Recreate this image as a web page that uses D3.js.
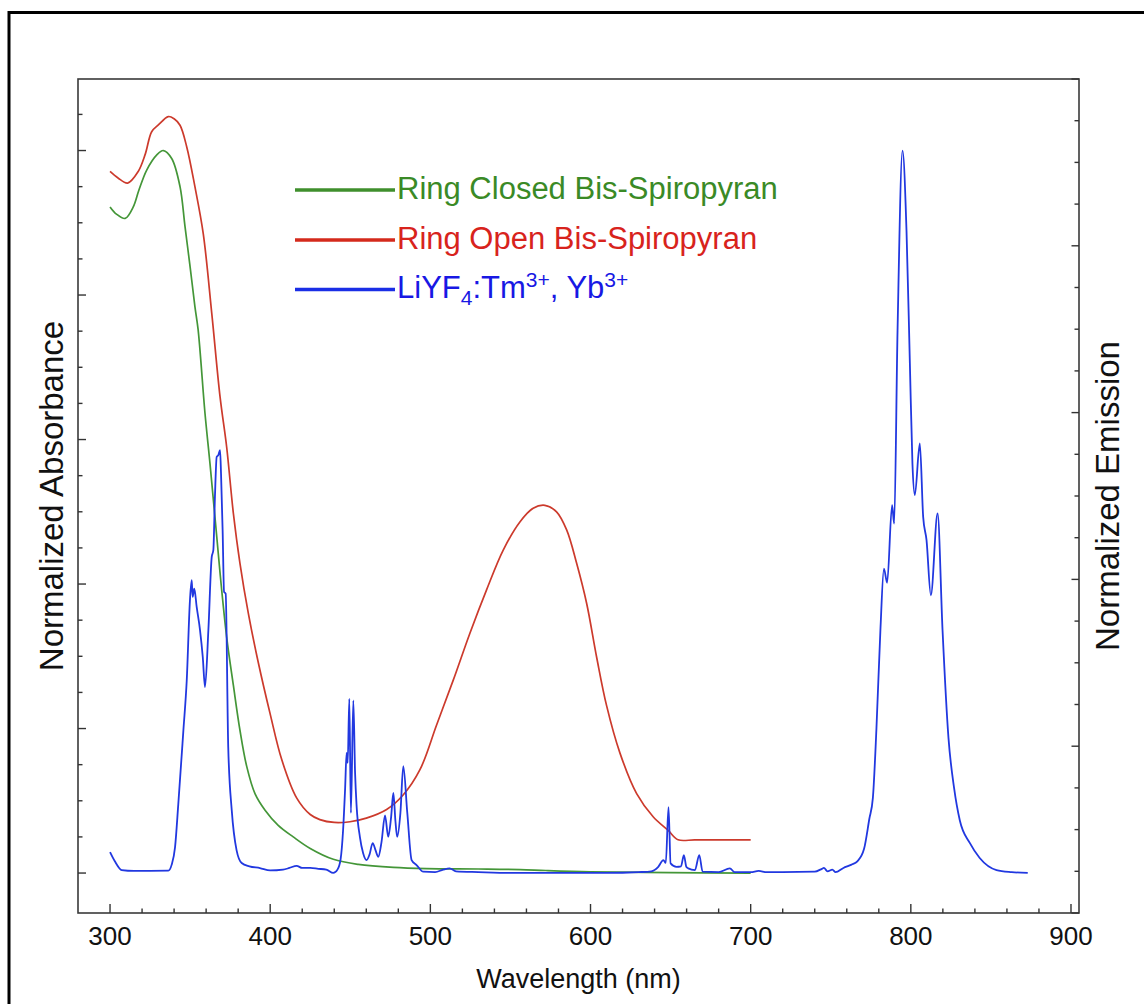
<!DOCTYPE html>
<html>
<head>
<meta charset="utf-8">
<script src="https://cdn.jsdelivr.net/npm/d3@7/dist/d3.min.js"></script>
<style>
  html, body { margin: 0; padding: 0; background: #fff; }
  svg { display: block; }
  text { font-family: "Liberation Sans", Arial, Helvetica, sans-serif; }
</style>
</head>
<body>
<svg id="chart" width="1144" height="1004"></svg>
<script>
// Ring-closed bis-spiropyran absorbance (normalized, left axis)
const closedWl  = [300, 304, 309.4, 314.5, 318, 322.9, 329.2, 333.3, 338.5, 343.7, 346.8, 350, 353, 355, 359.3, 362.4, 365.5, 368.7, 372.8, 377, 381.1, 385.3, 390.5, 396.8, 405, 414.4, 425, 439.4, 455, 477, 497.7, 530, 556, 572, 600, 650, 700];
const closedAbs = [0.922, 0.912, 0.906, 0.922, 0.945, 0.973, 0.994, 1.0, 0.989, 0.950, 0.895, 0.839, 0.784, 0.752, 0.636, 0.567, 0.493, 0.415, 0.327, 0.260, 0.198, 0.148, 0.110, 0.087, 0.066, 0.050, 0.034, 0.019, 0.012, 0.0078, 0.0062, 0.0056, 0.0048, 0.0035, 0.0018, 0.0006, 0.0];

// Ring-open bis-spiropyran absorbance (normalized, left axis)
const openWl  = [300, 305, 311, 317.6, 322, 326, 330, 336.4, 340, 343.7, 347.9, 353, 358.2, 363.5, 368.7, 372.8, 377, 381.1, 386.3, 392.6, 399.9, 407.2, 416.5, 425, 431, 440, 449.8, 460, 472.7, 483, 493.5, 503.9, 514.3, 524.7, 535.1, 545.5, 555.9, 564.2, 571.5, 578.8, 585.1, 591.3, 597.6, 603.8, 610, 618.4, 628.8, 639.1, 648.5, 654.7, 665, 680, 690, 700];
const openAbs = [0.971, 0.962, 0.955, 0.971, 0.995, 1.026, 1.035, 1.047, 1.044, 1.035, 1.005, 0.950, 0.885, 0.775, 0.659, 0.590, 0.498, 0.429, 0.360, 0.291, 0.221, 0.157, 0.104, 0.081, 0.074, 0.070, 0.071, 0.076, 0.088, 0.108, 0.143, 0.205, 0.267, 0.332, 0.392, 0.447, 0.486, 0.505, 0.509, 0.500, 0.475, 0.429, 0.373, 0.299, 0.232, 0.166, 0.110, 0.078, 0.059, 0.046, 0.046, 0.046, 0.046, 0.046];

// LiYF4:Tm3+, Yb3+ upconversion emission (normalized, right axis)
const emisWl  = [300, 303, 307.3, 315, 325, 336.4, 338.5, 340.6, 342.6, 345.8, 347.9, 349.9, 351, 351.6, 352.6, 354.1, 356.2, 357.9, 359.3, 361.4, 363.5, 364.5, 365.5, 366.6, 367.6, 368.7, 369.3, 370.3, 371.2, 372.2, 373.8, 376, 379, 382.2, 387, 393.6, 400, 408, 412, 416.5, 420, 425, 430, 435, 439.4, 442, 444, 445.5, 446.8, 447.7, 448.4, 449.4, 450.4, 451.9, 453, 454, 456, 458, 460.2, 462, 464, 465.8, 467.5, 469.5, 471.7, 473.7, 475.5, 476.9, 478.2, 479.3, 481.3, 483.1, 485.6, 488.3, 491.4, 495.6, 503, 508, 512, 516, 530, 550, 570, 590, 610, 630, 638, 642.3, 645.5, 647, 648.7, 650, 653.7, 656.5, 658.3, 659.8, 661, 665.2, 667.9, 670, 680, 687, 690, 700, 705, 710, 720, 740, 744.5, 745.7, 748, 751, 753, 757.9, 763, 766.6, 770.8, 774.1, 776.3, 778.5, 781, 783.2, 785.2, 788.3, 789.6, 791.7, 794.8, 797.3, 799.4, 801, 802.5, 805.6, 807.7, 809.8, 812.5, 816.7, 819.8, 823.5, 827, 830.6, 836.8, 843, 853.5, 863, 873];
const emisVal = [0.073, 0.062, 0.0515, 0.0505, 0.0505, 0.0507, 0.058, 0.079, 0.130, 0.219, 0.279, 0.375, 0.399, 0.379, 0.389, 0.367, 0.339, 0.307, 0.271, 0.339, 0.427, 0.435, 0.499, 0.547, 0.549, 0.555, 0.527, 0.459, 0.385, 0.383, 0.199, 0.123, 0.0754, 0.0599, 0.056, 0.0539, 0.051, 0.052, 0.054, 0.0566, 0.054, 0.054, 0.053, 0.052, 0.048, 0.052, 0.065, 0.099, 0.150, 0.192, 0.180, 0.257, 0.120, 0.255, 0.168, 0.127, 0.0914, 0.072, 0.0635, 0.070, 0.0838, 0.075, 0.0674, 0.085, 0.117, 0.0914, 0.115, 0.144, 0.110, 0.0914, 0.120, 0.176, 0.120, 0.0635, 0.0575, 0.0495, 0.049, 0.052, 0.0535, 0.050, 0.049, 0.048, 0.048, 0.048, 0.048, 0.049, 0.050, 0.0554, 0.0635, 0.060, 0.127, 0.0595, 0.0554, 0.056, 0.0695, 0.0555, 0.0535, 0.0515, 0.0695, 0.0495, 0.049, 0.0535, 0.049, 0.049, 0.0505, 0.049, 0.049, 0.0495, 0.053, 0.054, 0.050, 0.052, 0.049, 0.054, 0.058, 0.062, 0.077, 0.113, 0.138, 0.220, 0.339, 0.413, 0.396, 0.489, 0.467, 0.698, 0.914, 0.818, 0.659, 0.539, 0.501, 0.563, 0.475, 0.447, 0.381, 0.479, 0.339, 0.210, 0.150, 0.111, 0.084, 0.066, 0.0515, 0.049, 0.048];

// Axis ticks
const xMajorTicks = [300, 400, 500, 600, 700, 800, 900];
const xMinorTicks = d3.range(300, 901, 20);
const yMajorTicks = [0, 0.2, 0.4, 0.6, 0.8, 1.0];
const yLeftMinorTicks = d3.range(0, 1.051, 0.05);
const yRightMinorTicks = d3.range(0, 1.001, 0.05);

const legendItems = [
  { key: "closed", color: "#3a8a26", line: "#3f8f2c" },
  { key: "open",   color: "#d8231c", line: "#d42a1c" },
  { key: "emis",   color: "#1818e4", line: "#1a2ee6" }
];

const plot = { left: 78, top: 79, right: 1079, bottom: 913 };

const svg = d3.select("#chart");

// Outer frame of the figure panel
svg.append("path")
  .attr("d", `M9,1004 L9,12.5 L1144,12.5`)
  .attr("fill", "none")
  .attr("stroke", "#000")
  .attr("stroke-width", 3);

const x = d3.scaleLinear().domain([280, 905]).range([plot.left, plot.right]);
const yL = d3.scaleLinear().domain([-0.0553, 1.099]).range([plot.bottom, plot.top]);
const yR = d3.scaleLinear().domain([0, 1]).range([plot.bottom, plot.top]);

// Plot frame
svg.append("rect")
  .attr("x", plot.left).attr("y", plot.top)
  .attr("width", plot.right - plot.left).attr("height", plot.bottom - plot.top)
  .attr("fill", "none").attr("stroke", "#3a3a3a").attr("stroke-width", 1.6);

const tickColor = "#333";
const ticks = svg.append("g").attr("stroke", tickColor).attr("stroke-width", 1.4);

// Bottom ticks point inward
xMinorTicks.forEach(v => {
  const major = xMajorTicks.includes(v);
  ticks.append("line")
    .attr("x1", x(v)).attr("x2", x(v))
    .attr("y1", plot.bottom).attr("y2", plot.bottom - (major ? 9 : 4.5));
});
// Left ticks
yLeftMinorTicks.forEach(v => {
  const major = yMajorTicks.some(m => Math.abs(m - v) < 1e-6);
  ticks.append("line")
    .attr("x1", plot.left).attr("x2", plot.left + (major ? 8 : 4.5))
    .attr("y1", yL(v)).attr("y2", yL(v));
});
// Right ticks
yRightMinorTicks.forEach(v => {
  const major = yMajorTicks.some(m => Math.abs(m - v) < 1e-6);
  ticks.append("line")
    .attr("x1", plot.right).attr("x2", plot.right - (major ? 7.5 : 4.5))
    .attr("y1", yR(v)).attr("y2", yR(v));
});

// Bottom tick labels
svg.append("g").selectAll("text").data(xMajorTicks).join("text")
  .attr("x", d => x(d)).attr("y", 945)
  .attr("text-anchor", "middle")
  .attr("font-size", 26)
  .attr("fill", "#111")
  .text(d => d);

// Axis titles
svg.append("text")
  .attr("x", (plot.left + plot.right) / 2).attr("y", 988)
  .attr("text-anchor", "middle").attr("font-size", 27).attr("fill", "#111")
  .text("Wavelength (nm)");

svg.append("text")
  .attr("transform", `translate(63,${(plot.top + plot.bottom) / 2}) rotate(-90)`)
  .attr("text-anchor", "middle").attr("font-size", 33).attr("fill", "#111")
  .text("Normalized Absorbance");

svg.append("text")
  .attr("transform", `translate(1119,${(plot.top + plot.bottom) / 2}) rotate(-90)`)
  .attr("text-anchor", "middle").attr("font-size", 33).attr("fill", "#111")
  .text("Normalized Emission");

// Spectra: smooth absorbance bands, sharper emission lines
const lineL = d3.line().x(d => x(d[0])).y(d => yL(d[1])).curve(d3.curveCatmullRom.alpha(0.5));
const lineR = d3.line().x(d => x(d[0])).y(d => yR(d[1])).curve(d3.curveMonotoneX);

const g = svg.append("g").attr("fill", "none").attr("stroke-linejoin", "round");

g.append("path")
  .datum(d3.zip(openWl, openAbs))
  .attr("d", lineL)
  .attr("stroke", "#cc3a2c").attr("stroke-width", 1.7);

g.append("path")
  .datum(d3.zip(closedWl, closedAbs))
  .attr("d", lineL)
  .attr("stroke", "#449638").attr("stroke-width", 1.7);

g.append("path")
  .datum(d3.zip(emisWl, emisVal))
  .attr("d", lineR)
  .attr("stroke", "#2138e0").attr("stroke-width", 1.8);

// Legend
const legY = [190, 240, 289.5];
const legend = svg.append("g");
legendItems.forEach((it, i) => {
  legend.append("line")
    .attr("x1", 295).attr("x2", 395)
    .attr("y1", legY[i]).attr("y2", legY[i])
    .attr("stroke", it.line).attr("stroke-width", 3.5);
});

const legText = (i) => legend.append("text")
  .attr("x", 397).attr("y", legY[i] + 8.5)
  .attr("font-size", 31).attr("fill", legendItems[i].color);

legText(0).text("Ring Closed Bis-Spiropyran");
legText(1).text("Ring Open Bis-Spiropyran");
const t3 = legText(2);
t3.append("tspan").text("LiYF");
t3.append("tspan").attr("font-size", 21).attr("dy", 7).text("4");
t3.append("tspan").attr("dy", -7).text(":Tm");
t3.append("tspan").attr("font-size", 21).attr("dy", -11).text("3+");
t3.append("tspan").attr("dy", 11).text(", Yb");
t3.append("tspan").attr("font-size", 21).attr("dy", -11).text("3+");
</script>
</body>
</html>
